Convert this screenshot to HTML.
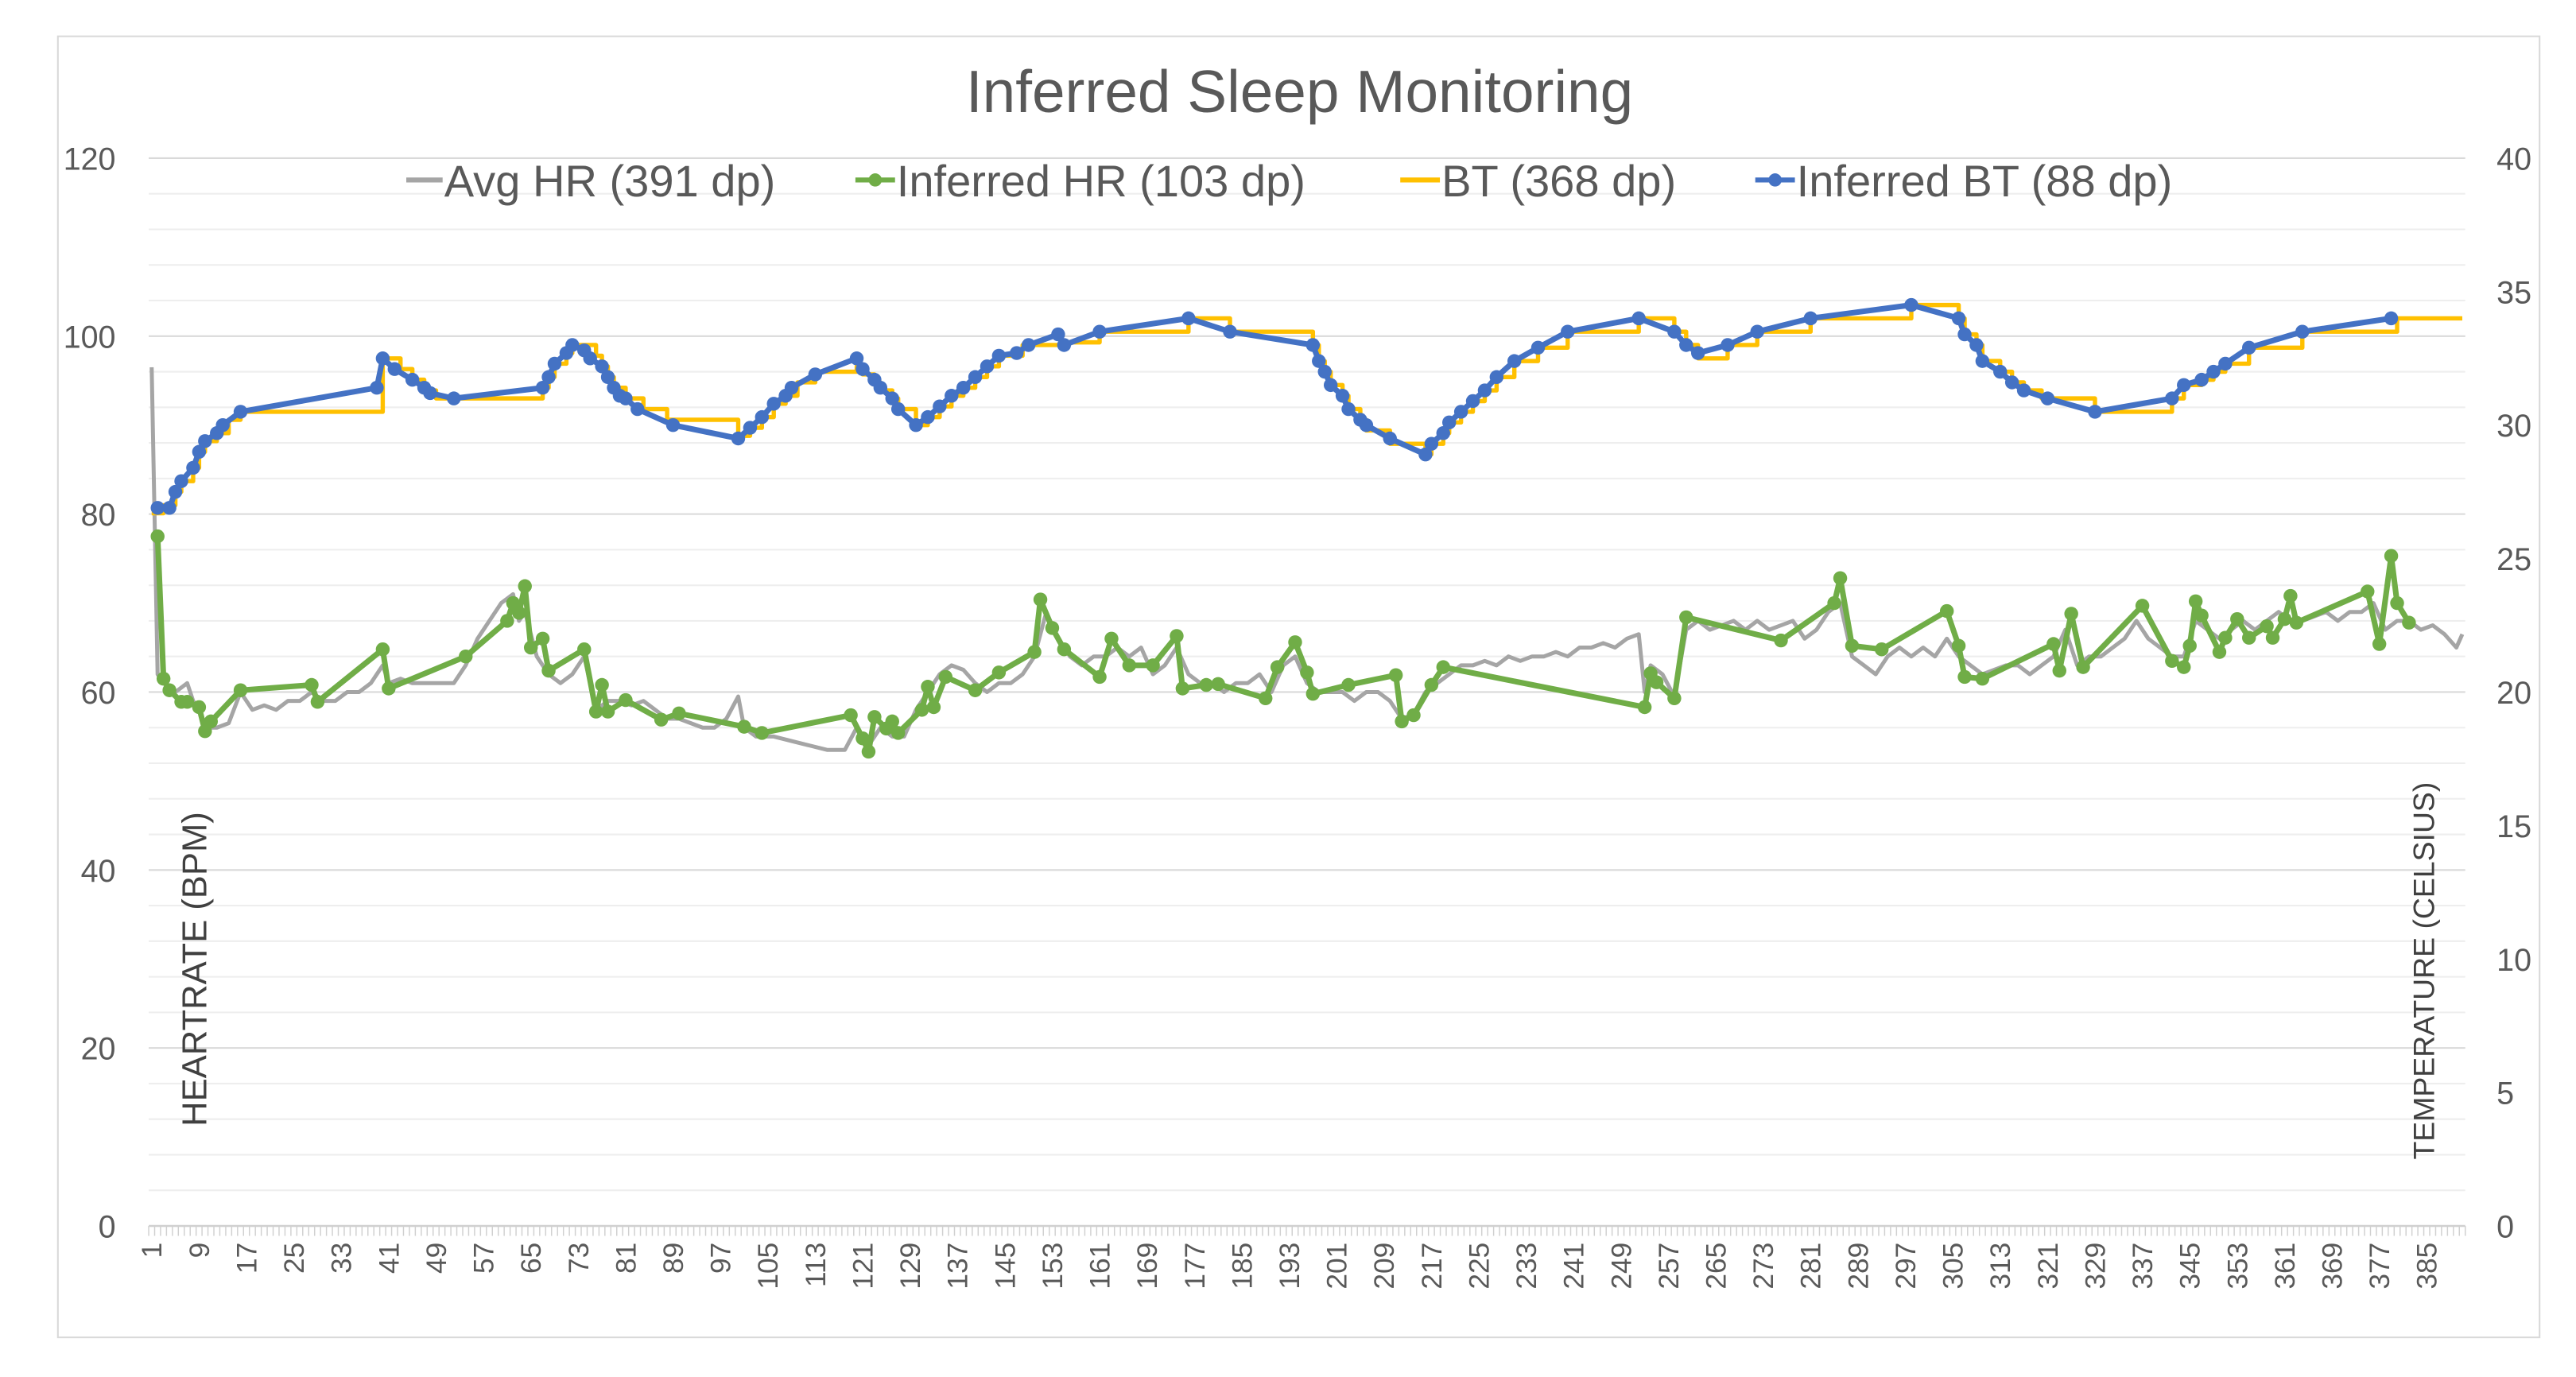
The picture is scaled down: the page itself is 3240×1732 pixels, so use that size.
<!DOCTYPE html>
<html><head><meta charset="utf-8"><style>
html,body{margin:0;padding:0;background:#fff;}
svg{display:block;font-family:"Liberation Sans",sans-serif;}
</style></head><body>
<svg id="chart" width="3240" height="1732" viewBox="0 0 1560 834" xmlns="http://www.w3.org/2000/svg">
<rect x="35" y="22" width="1503" height="788" fill="#fff" stroke="#d9d9d9" stroke-width="1"/>
<text x="787" y="68" text-anchor="middle" font-size="36" fill="#595959">Inferred Sleep Monitoring</text>
<g id="grid"></g>
<g id="axes"></g>
<g id="series"></g>
<g font-size="27" fill="#595959">
 <g><line x1="246" y1="109" x2="268" y2="109" stroke="#A5A5A5" stroke-width="3"/><text x="269" y="119">Avg HR (391 dp)</text></g>
 <g><line x1="518" y1="109" x2="542" y2="109" stroke="#70AD47" stroke-width="3"/><circle cx="530" cy="109" r="4" fill="#70AD47"/><text x="543" y="119">Inferred HR (103 dp)</text></g>
 <g><line x1="848" y1="109" x2="872" y2="109" stroke="#FFC000" stroke-width="3"/><text x="873" y="119">BT (368 dp)</text></g>
 <g><line x1="1063" y1="109" x2="1087" y2="109" stroke="#4472C4" stroke-width="3"/><circle cx="1075" cy="109" r="4" fill="#4472C4"/><text x="1088" y="119">Inferred BT (88 dp)</text></g>
</g>
<text transform="translate(125,587) rotate(-90)" text-anchor="middle" font-size="21" fill="#404040">HEARTRATE (BPM)</text>
<text transform="translate(1474,588) rotate(-90)" text-anchor="middle" font-size="18" fill="#404040">TEMPERATURE (CELSIUS)</text>
</svg>
<script>
const leftTicks=[0,20,40,60,80,100,120];
const rightTicks=[0,5,10,15,20,25,30,35,40];
const nCategories=391;
const xLabelStep=8;
const avgHR=[[1,96.5],[2,62],[3,61],[5,60],[7,61],[8,59],[9,58],[10,56],[12,56],[14,56.5],[16,60],[18,58],[20,58.5],[22,58],[24,59],[26,59],[28,60],[30,59],[32,59],[34,60],[36,60],[38,61],[40,63],[41,61],[43,61.5],[45,61],[47,61],[50,61],[52,61],[54,63],[56,66],[58,68],[60,70],[62,71],[63,68],[64,69],[66,64],[68,62],[70,61],[72,62],[74,64],[76,58],[78,59],[80,59],[82,58.5],[84,59],[86,58],[88,57],[90,57],[92,56.5],[94,56],[96,56],[98,57],[100,59.5],[101,56],[103,55],[106,55],[109,54.5],[112,54],[115,53.5],[118,53.5],[120,56],[122,54],[124,56],[126,55],[128,55],[130,58],[132,60],[134,62],[136,63],[138,62.5],[140,61],[142,60],[144,61],[146,61],[148,62],[150,64],[152,69],[154,66],[156,64],[158,63],[160,64],[162,64],[164,65],[166,64],[168,65],[170,62],[172,63],[174,65],[176,62],[178,61],[180,61],[182,60],[184,61],[186,61],[188,62],[190,60],[192,63],[194,64],[196,61],[198,60],[200,60],[202,60],[204,59],[206,60],[208,60],[210,59],[212,57],[214,57.5],[216,60],[218,61],[220,62],[222,63],[224,63],[226,63.5],[228,63],[230,64],[232,63.5],[234,64],[236,64],[238,64.5],[240,64],[242,65],[244,65],[246,65.5],[248,65],[250,66],[252,66.5],[253,60],[254,63],[256,62],[258,59.5],[260,67],[262,68],[264,67],[266,67.5],[268,68],[270,67],[272,68],[274,67],[276,67.5],[278,68],[280,66],[282,67],[284,69],[286,70],[288,64],[290,63],[292,62],[294,64],[296,65],[298,64],[300,65],[302,64],[304,66],[306,64],[308,63],[310,62],[312,62.5],[314,63],[316,63],[318,62],[320,63],[322,64],[324,67],[326,63],[328,64],[330,64],[332,65],[334,66],[336,68],[338,66],[340,65],[342,64],[344,64],[346,68],[348,67],[350,66],[352,67],[354,68],[356,67],[358,68],[360,69],[362,68],[364,68],[366,68.5],[368,69],[370,68],[372,69],[374,69],[376,70],[378,67],[380,68],[382,68],[384,67],[386,67.5],[388,66.5],[390,65],[391,66.5]];
const inferredHR=[[2,77.5],[3,61.5],[4,60.2],[6,58.9],[7,58.9],[9,58.3],[10,55.6],[11,56.7],[16,60.2],[28,60.8],[29,58.9],[40,64.8],[41,60.4],[54,64],[61,68],[62,70],[63,68.9],[64,71.9],[65,65],[67,66],[68,62.4],[74,64.8],[76,57.8],[77,60.8],[78,57.8],[81,59.1],[87,56.9],[90,57.6],[101,56.1],[104,55.4],[119,57.4],[121,54.8],[122,53.3],[123,57.2],[125,55.9],[126,56.7],[127,55.4],[131,58],[132,60.6],[133,58.3],[135,61.7],[140,60.2],[144,62.2],[150,64.5],[151,70.4],[153,67.2],[155,64.8],[161,61.7],[163,66],[166,63],[170,63],[174,66.3],[175,60.4],[179,60.8],[181,60.9],[189,59.3],[191,62.8],[194,65.6],[196,62.2],[197,59.8],[203,60.8],[211,61.9],[212,56.7],[214,57.4],[217,60.8],[219,62.8],[253,58.3],[254,62.1],[255,61.1],[258,59.3],[260,68.4],[276,65.8],[285,70],[286,72.8],[288,65.2],[293,64.8],[304,69.1],[306,65.2],[307,61.7],[310,61.5],[322,65.4],[323,62.4],[325,68.8],[327,62.8],[337,69.7],[342,63.5],[344,62.8],[345,65.2],[346,70.2],[347,68.6],[350,64.5],[351,66.1],[353,68.2],[355,66.1],[358,67.4],[359,66.1],[361,68.2],[362,70.8],[363,67.8],[375,71.3],[377,65.4],[379,75.3],[380,70],[382,67.8]];
const bodyTemp=[[1,26.7],[3,27.0],[5,27.5],[6,27.9],[8,28.4],[9,29.0],[10,29.4],[12,29.7],[14,30.2],[16,30.5],[40,32.5],[43,32.1],[45,31.7],[47,31.3],[49,31.0],[67,31.4],[68,31.8],[69,32.3],[71,32.7],[72,33.0],[76,32.6],[77,32.2],[78,31.8],[79,31.4],[81,31.0],[84,30.6],[88,30.2],[100,29.6],[102,29.9],[104,30.3],[106,30.8],[108,31.1],[110,31.6],[113,32.0],[120,32.2],[121,31.9],[123,31.6],[124,31.3],[126,31.0],[127,30.6],[130,30.0],[132,30.3],[134,30.7],[136,31.1],[138,31.4],[140,31.8],[142,32.2],[144,32.6],[148,33.0],[155,33.1],[161,33.5],[176,34.0],[183,33.5],[197,33.0],[198,32.4],[199,32.0],[200,31.5],[202,31.1],[203,30.6],[205,30.2],[206,29.8],[210,29.3],[216,28.9],[217,29.3],[219,29.7],[220,30.1],[222,30.5],[224,30.9],[226,31.3],[228,31.8],[231,32.4],[235,32.9],[240,33.5],[252,34.0],[258,33.5],[260,33.0],[262,32.5],[267,33.0],[272,33.5],[281,34.0],[298,34.5],[306,34.0],[307,33.4],[309,33.0],[310,32.4],[313,32.0],[315,31.6],[317,31.3],[320,31.0],[329,30.5],[342,31.0],[344,31.5],[347,31.7],[349,32.0],[351,32.3],[355,32.9],[364,33.5],[380,34.0],[391,34.0]];
const inferredBT=[[2,26.9],[4,26.9],[5,27.5],[6,27.9],[8,28.4],[9,29.0],[10,29.4],[12,29.7],[13,30.0],[16,30.5],[39,31.4],[40,32.5],[42,32.1],[45,31.7],[47,31.4],[48,31.2],[52,31.0],[67,31.4],[68,31.8],[69,32.3],[71,32.7],[72,33.0],[74,32.8],[75,32.5],[77,32.2],[78,31.8],[79,31.4],[80,31.1],[81,31.0],[83,30.6],[89,30.0],[100,29.5],[102,29.9],[104,30.3],[106,30.8],[108,31.1],[109,31.4],[113,31.9],[120,32.5],[121,32.1],[123,31.7],[124,31.4],[126,31.0],[127,30.6],[130,30.0],[132,30.3],[134,30.7],[136,31.1],[138,31.4],[140,31.8],[142,32.2],[144,32.6],[147,32.7],[149,33.0],[154,33.4],[155,33.0],[161,33.5],[176,34.0],[183,33.5],[197,33.0],[198,32.4],[199,32.0],[200,31.5],[202,31.1],[203,30.6],[205,30.2],[206,30.0],[210,29.5],[216,28.9],[217,29.3],[219,29.7],[220,30.1],[222,30.5],[224,30.9],[226,31.3],[228,31.8],[231,32.4],[235,32.9],[240,33.5],[252,34.0],[258,33.5],[260,33.0],[262,32.7],[267,33.0],[272,33.5],[281,34.0],[298,34.5],[306,34.0],[307,33.4],[309,33.0],[310,32.4],[313,32.0],[315,31.6],[317,31.3],[321,31.0],[329,30.5],[342,31.0],[344,31.5],[347,31.7],[349,32.0],[351,32.3],[355,32.9],[364,33.5],[379,34.0]];

const NS="http://www.w3.org/2000/svg";
const X0=90,X1=1493,YT=95.8,YB=742.5;
const bw=(X1-X0)/nCategories;
function xs(i){return X0+(i-0.5)*bw;}
function yL(v){return YB-(v/120)*(YB-YT);}
function yR(t){return YB-(t/40)*(YB-YT);}
function mk(tag,attrs,parent){const e=document.createElementNS(NS,tag);for(const k in attrs)e.setAttribute(k,attrs[k]);parent.appendChild(e);return e;}
const grid=document.getElementById('grid'),axes=document.getElementById('axes'),series=document.getElementById('series');
for(let v=4;v<=120;v+=4){
 const l=mk('line',{x1:X0,x2:X1,y1:yL(v),y2:yL(v),stroke:(v%20===0)?'#d9d9d9':'#eeeeee','stroke-width':1},grid);
 
 
}
leftTicks.forEach(v=>{
 const t=mk('text',{x:70,y:yL(v)+7,'text-anchor':'end','font-size':19,fill:'#595959'},axes);
 t.textContent=v;
 
 
});
rightTicks.forEach(v=>{
 const t=mk('text',{x:1512,y:yR(v)+7,'text-anchor':'start','font-size':19,fill:'#595959'},axes);
 t.textContent=v;
 
 
});
const ax=mk('line',{x1:X0,x2:X1,y1:YB,y2:YB,stroke:'#d0d0d0','stroke-width':1.2},axes);


let td='';for(let i=0;i<=nCategories;i++){const x=X0+i*bw;td+='M'+x.toFixed(2)+' '+YB+'V'+(YB+6);}
const tk=mk('path',{d:td,stroke:'#d0d0d0','stroke-width':0.7,fill:'none'},axes);


for(let i=1;i<=nCategories;i+=xLabelStep){
 const x=xs(i);
 const t=mk('text',{transform:'translate('+(x+6)+','+(YB+10)+') rotate(-90)','text-anchor':'end','font-size':17,fill:'#595959'},axes);
 t.textContent=i;
 
 
}
function poly(data,yf,color,w,name,step){
 let d='';
 data.forEach((p,k)=>{
  const x=xs(p[0]),y=yf(p[1]);
  if(k===0)d+='M'+x+' '+y;
  else if(step)d+='H'+x+'V'+y;
  else d+='L'+x+' '+y;
 });
 const e=mk('path',{d:d,fill:'none',stroke:color,'stroke-width':w,'stroke-linejoin':'round'},series);
 
 
}
function dots(data,yf,color,name){
 data.forEach(p=>{
  const c=mk('circle',{cx:xs(p[0]),cy:yf(p[1]),r:4.2,fill:color},series);
  
  
 });
}
poly(avgHR,yL,'#A5A5A5',2.4,'avg-hr-line',false);
poly(inferredHR,yL,'#70AD47',3.4,'inferred-hr-line',false);
dots(inferredHR,yL,'#70AD47','inferred-hr-point');
poly(bodyTemp,yR,'#FFC000',2.6,'bt-line',true);
poly(inferredBT,yR,'#4472C4',3.4,'inferred-bt-line',false);
dots(inferredBT,yR,'#4472C4','inferred-bt-point');
</script>
</body></html>
